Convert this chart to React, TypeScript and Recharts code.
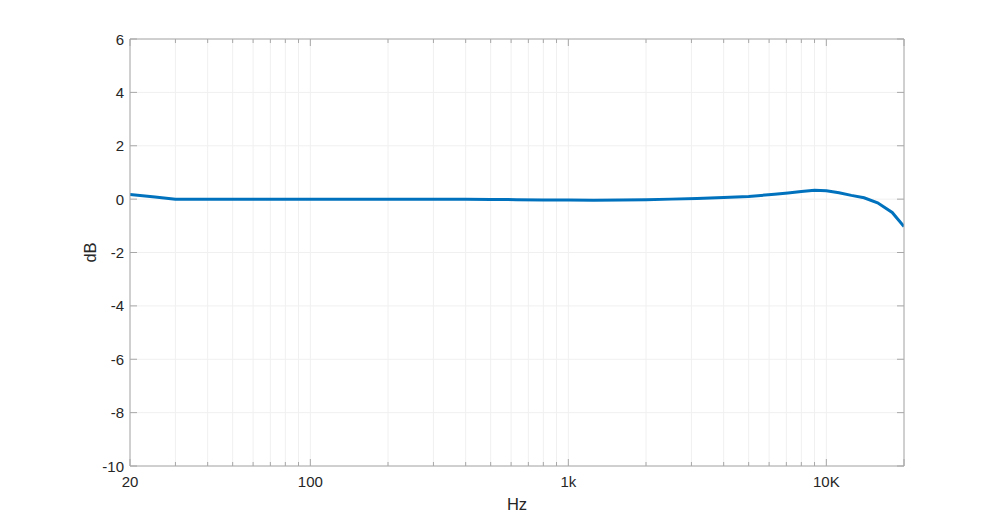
import { LineChart, Line, XAxis, YAxis, CartesianGrid } from "recharts";

const LINE_BLUE = "#0072bd";
const AXIS_GRAY = "#a8a8a8";
const GRID_GRAY = "#f0f0f0";
const TEXT_DARK = "#262626";
const FONT = '"Liberation Sans", Arial, Helvetica, sans-serif';

// frequency response
const freqs = [
  20, 25, 30, 40, 50, 63, 80, 100, 125, 160, 200, 250, 315, 400, 500, 630,
  800, 1000, 1250, 1600, 2000, 2500, 3150, 4000, 5000, 6300, 7100, 8000,
  9000, 10000, 11200, 12500, 14000, 15800, 18000, 20000,
];
const levels = [
  0.17, 0.08, 0.0, 0.0, 0.0, 0.0, 0.0, 0.0, 0.0, 0.0, 0.0, 0.0, 0.0, 0.0,
  -0.01, -0.02, -0.03, -0.03, -0.04, -0.03, -0.02, 0.0, 0.02, 0.06, 0.1,
  0.18, 0.23, 0.29, 0.33, 0.31, 0.24, 0.14, 0.05, -0.14, -0.5, -1.03,
];

const xTicks = [
  20, 30, 40, 50, 60, 70, 80, 90, 100, 200, 300, 400, 500, 600, 700, 800, 900,
  1000, 2000, 3000, 4000, 5000, 6000, 7000, 8000, 9000, 10000, 20000,
];
const xLabels: Record<number, string> = {
  20: "20",
  100: "100",
  1000: "1k",
  10000: "10K",
};
const majorX = [20, 100, 1000, 10000, 20000];
const yTicks = [-10, -8, -6, -4, -2, 0, 2, 4, 6];

const data = freqs.map((f, i) => ({ f, db: levels[i] }));

const tickLen = (v: number) => (majorX.includes(v) ? 7 : 4);

const BottomTick = (props: any) => {
  const { x, y, payload } = props;
  const label = xLabels[payload.value];
  return (
    <g>
      <line x1={x} x2={x} y1={y} y2={y - tickLen(payload.value)} stroke={AXIS_GRAY} />
      {label && (
        <text x={x} y={y + 21} textAnchor="middle" fill={TEXT_DARK} fontSize={15} fontFamily={FONT}>
          {label}
        </text>
      )}
    </g>
  );
};

const TopTick = (props: any) => {
  const { x, y, payload } = props;
  return <line x1={x} x2={x} y1={y} y2={y + tickLen(payload.value)} stroke={AXIS_GRAY} />;
};

const LeftTick = (props: any) => {
  const { x, y, payload } = props;
  return (
    <g>
      <line x1={x} x2={x + 7} y1={y} y2={y} stroke={AXIS_GRAY} />
      <text x={x - 6} y={y + 5.5} textAnchor="end" fill={TEXT_DARK} fontSize={15} fontFamily={FONT}>
        {payload.value}
      </text>
    </g>
  );
};

const RightTick = (props: any) => {
  const { x, y } = props;
  return <line x1={x} x2={x - 7} y1={y} y2={y} stroke={AXIS_GRAY} />;
};

export default function App() {
  return (
    <div style={{ position: "fixed", left: 0, top: 0, width: 999, height: 524, background: "#fff" }}>
      <LineChart
        width={999}
        height={524}
        data={data}
        margin={{ top: 37, right: 90, left: 70, bottom: 18 }}
      >
        <CartesianGrid xAxisId="top" yAxisId="left" stroke={GRID_GRAY} strokeWidth={1} />
        <XAxis
          xAxisId="bottom"
          dataKey="f"
          type="number"
          scale="log"
          domain={[20, 20000]}
          ticks={xTicks}
          interval={0}
          height={40}
          tickSize={0}
          tickMargin={0}
          tickLine={false}
          axisLine={{ stroke: AXIS_GRAY }}
          tick={<BottomTick />}
          allowDataOverflow
        />
        <XAxis
          xAxisId="top"
          orientation="top"
          dataKey="f"
          type="number"
          scale="log"
          domain={[20, 20000]}
          ticks={xTicks}
          interval={0}
          height={2}
          tickSize={0}
          tickMargin={0}
          tickLine={false}
          axisLine={{ stroke: AXIS_GRAY }}
          tick={<TopTick />}
          allowDataOverflow
        />
        <YAxis
          yAxisId="left"
          domain={[-10, 6]}
          ticks={yTicks}
          interval={0}
          width={60}
          tickSize={0}
          tickMargin={0}
          tickLine={false}
          axisLine={{ stroke: AXIS_GRAY }}
          tick={<LeftTick />}
          allowDataOverflow
          label={{
            value: "dB",
            angle: -90,
            position: "insideLeft",
            offset: 20,
            style: { fill: TEXT_DARK, fontSize: 16.5, fontFamily: FONT, textAnchor: "middle" },
          }}
        />
        <YAxis
          yAxisId="right"
          orientation="right"
          domain={[-10, 6]}
          ticks={yTicks}
          interval={0}
          width={5}
          tickSize={0}
          tickMargin={0}
          tickLine={false}
          axisLine={{ stroke: AXIS_GRAY }}
          tick={<RightTick />}
          allowDataOverflow
        />
        <Line
          xAxisId="bottom"
          yAxisId="left"
          dataKey="db"
          type="linear"
          stroke={LINE_BLUE}
          strokeWidth={3}
          dot={false}
          isAnimationActive={false}
        />
        <text x={517} y={510} textAnchor="middle" fill={TEXT_DARK} fontSize={16.5} fontFamily={FONT}>
          Hz
        </text>
      </LineChart>
    </div>
  );
}
